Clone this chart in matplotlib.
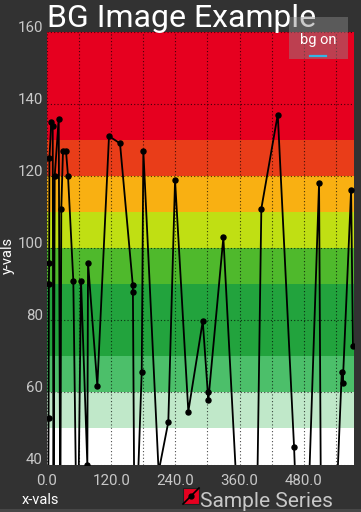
import matplotlib
matplotlib.use("Agg")
import matplotlib.pyplot as plt
from matplotlib.patches import Rectangle
from matplotlib.lines import Line2D

plt.rcParams['font.family'] = ['Roboto', 'DejaVu Sans']

# series values (points below 40 fall off the bottom of the plot)
xs = [2, 3, 3.5, 4, 4.5, 8.0, 10.7, 12.2, 14.4, 21.9, 24.9, 26.7, 29.9, 35.5, 39.3,
      49.2, 56.7, 63.6, 75.4, 76.7, 94.1, 115.9, 136.5, 160.3, 160.6, 164,
      177.1, 180.1, 208.7, 226.8, 239.4, 264.2, 291.2, 300.5, 301.6, 329.7,
      360, 392, 400.7, 431.4, 461.9, 472, 481, 508.6, 513, 537, 551.1, 553,
      568.5, 572]
ys = [20, 53, 90, 96, 125, 135, 134, 20, 120, 136, 20, 111, 127, 127, 120,
      91, 5, 91, 40, 96, 61.8, 131.1, 129.1, 89.9, 87.9, 10,
      65.8, 127, 38, 51.8, 118.9, 54.7, 79.8, 60.1, 57.8, 103,
      18, 22, 111, 137.1, 44.8, 5, -5, 118, 5, 15, 65.8, 62.7,
      116.1, 72.9]

# background image bands
band_edges = [40, 50, 60, 70, 90, 100, 110, 120, 130, 160]
band_colors = ['#ffffff', '#c0e8c9', '#4cbf6a', '#22a33d', '#4fb92c',
               '#c0df13', '#f9b012', '#e93d19', '#e6001f']

x_ticks = [0, 120, 240, 360, 480]
y_ticks = [40, 60, 80, 100, 120, 140, 160]

bg = '#323232'
fig = plt.figure(figsize=(3.61, 5.12), dpi=100, facecolor=bg)
ax = fig.add_axes([47/361, 1 - 464.5/512, 306.5/361, 432.5/512])
ax.set_facecolor(bg)

for i in range(len(band_colors)):
    ax.axhspan(band_edges[i], band_edges[i + 1], color=band_colors[i], lw=0, zorder=0)

ax.set_xlim(0, 573)
ax.set_ylim(40, 160)

ax.set_xticks(x_ticks)
ax.set_xticklabels(['%.1f' % v for v in x_ticks])
ax.set_xticks(range(60, 573, 60), minor=True)
ax.set_yticks(y_ticks)
ax.tick_params(length=0, colors='#c8c8c8', labelsize=10.8)
ax.tick_params(axis='x', which='both', length=0, pad=7)
ax.tick_params(axis='y', pad=3)
for lbl in ax.get_yticklabels():
    lbl.set_va('baseline')

ax.grid(True, which='both', color='black', alpha=0.7, lw=0.8, ls=(0, (1, 2)), zorder=1)
for s in ax.spines.values():
    s.set_visible(False)

ax.plot(xs, ys, color='black', lw=1.3, marker='o', ms=3.6, zorder=3)

# title
fig.text(182/361, 1 - 26.7/512, 'BG Image Example', color='white',
         fontsize=23, ha='center', va='baseline')

# toggle button
fig.add_artist(Rectangle((289/361, 1 - 59/512), 59/361, 42/512, transform=fig.transFigure,
                         facecolor='#8c8c8c', alpha=0.45, edgecolor='none', zorder=5))
fig.text(318.5/361, 1 - 44/512, 'bg on', color='white', fontsize=10.5,
         ha='center', va='baseline', zorder=6)
fig.add_artist(Line2D([310/361, 326/361], [1 - 56/512, 1 - 56/512], transform=fig.transFigure,
                      color='#33b5e5', lw=1.6, zorder=6))

# axis labels
fig.text(8/361, 1 - 255/512, 'y-vals', color='white', fontsize=10.5,
         rotation=90, ha='center', va='center')
fig.text(40/361, 1 - 500/512, 'x-vals', color='white', fontsize=10.5,
         ha='center', va='center')

# legend
fig.add_artist(Rectangle((183/361, 1 - 504/512), 16/361, 16/512, transform=fig.transFigure,
                         facecolor='#e6001f', edgecolor='#222222', lw=0.8))
fig.add_artist(Line2D([183/361, 199/361], [1 - 504/512, 1 - 488/512], transform=fig.transFigure,
                      color='black', lw=1.2))
fig.add_artist(Line2D([191/361], [1 - 496/512], transform=fig.transFigure,
                      color='black', marker='o', ms=3.5))
fig.text(200/361, 1 - 507/512, 'Sample Series', color='#c8c8c8', fontsize=15,
         ha='left', va='baseline')

# bottom strip
fig.add_artist(Rectangle((0, 0), 1, 3.5/512, transform=fig.transFigure,
                         facecolor='#474747', edgecolor='none'))

fig.savefig('out.png', dpi=100, facecolor=bg)
